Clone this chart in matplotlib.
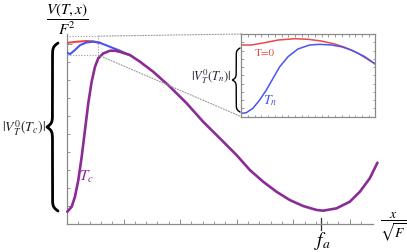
import numpy as np
import matplotlib
matplotlib.use('Agg')
import matplotlib.pyplot as plt
from matplotlib.patches import Rectangle, ConnectionPatch

# main curves (x in units of the bottom ticks, y in units of the left ticks)
purple_x = [0.005, 0.083, 0.141, 0.200, 0.260, 0.318, 0.376, 0.436, 0.495, 0.553,
            0.641, 0.760, 0.848, 0.936, 1.113, 1.290, 1.525, 1.820, 2.115, 2.408,
            2.703, 2.998, 3.233, 3.468, 3.705, 3.940, 4.175, 4.412, 4.528, 4.765,
            5.000, 5.177, 5.353, 5.489]
purple_y = [0.68, 0.96, 1.52, 2.44, 3.74, 5.22, 6.71, 7.91, 8.74, 9.21,
            9.48, 9.63, 9.63, 9.57, 9.39, 9.02, 8.46, 7.63, 6.71, 5.68,
            4.76, 3.83, 3.00, 2.35, 1.79, 1.33, 1.00, 0.78, 0.74, 0.87,
            1.24, 1.79, 2.54, 3.41]
blue_x = [0.005, 0.053, 0.141, 0.230, 0.348, 0.465, 0.583, 0.760, 0.936, 1.054, 1.113]
blue_y = [9.52, 9.44, 9.67, 9.94, 10.09, 10.13, 10.07, 9.85, 9.63, 9.46, 9.39]
red_x = [0.005, 0.171, 0.348, 0.465, 0.583]
red_y = [10.07, 10.13, 10.17, 10.15, 10.07]

# zoomed curves in the inset (normalised 0..1)
in_red_x = [0, 0.075, 0.175, 0.274, 0.399, 0.498, 0.597, 0.697, 0.772, 0.871, 1.0]
in_red_y = [0.867, 0.867, 0.895, 0.927, 0.943, 0.936, 0.915, 0.879, 0.839, 0.767, 0.637]
in_blue_x = [0, 0.037, 0.087, 0.137, 0.187, 0.237, 0.287, 0.349, 0.423, 0.510,
             0.585, 0.672, 0.746, 0.821, 0.921, 1.0]
in_blue_y = [0.041, 0.048, 0.102, 0.202, 0.323, 0.464, 0.605, 0.726, 0.819, 0.867,
             0.875, 0.867, 0.846, 0.807, 0.726, 0.637]

f_a = 4.49
zoom_box = (0.0, 9.39, 0.553, 10.44)  # x0, y0, x1, y1

RED = '#e84848'
BLUE = '#4a55f0'
PURPLE = '#8a2b96'
GRAY = '#8a8a8a'

plt.rcParams['mathtext.fontset'] = 'stix'
plt.rcParams['font.family'] = ['STIXGeneral', 'DejaVu Serif']

fig = plt.figure(figsize=(4.07, 2.52), dpi=100)
W, H = 407, 252

def px_axes(l, t, r, b):
    return [l / W, 1 - b / H, (r - l) / W, (b - t) / H]

ax = fig.add_axes(px_axes(67, 34, 373, 224))
ax.plot(red_x, red_y, color=RED, lw=1.5, zorder=3)
ax.plot(blue_x, blue_y, color=BLUE, lw=1.5, zorder=4)
ax.plot(purple_x, purple_y, color=PURPLE, lw=1.9, zorder=5, clip_on=False,
        solid_capstyle='round', solid_joinstyle='round')
ax.set_xlim(0, 5.41)
ax.set_ylim(0, 10.56)
for s in ['top', 'right']:
    ax.spines[s].set_visible(False)
for s in ['left', 'bottom']:
    ax.spines[s].set_color(GRAY)
    ax.spines[s].set_linewidth(0.9)
ax.set_xticks([1, 2, 3, 4, 5])
ax.set_xticks(np.arange(0.2, 5.4, 0.2), minor=True)
ax.set_yticks([1, 10])
ax.set_yticks(np.arange(1, 11), minor=True)
ax.tick_params(which='major', direction='in', length=3.5, width=0.7, color=GRAY,
               labelbottom=False, labelleft=False)
ax.tick_params(which='minor', direction='in', length=2, width=0.6, color=GRAY)
ax.plot([f_a, f_a], [-0.35, 0.35], color='#333333', lw=0.9, clip_on=False)

x0, y0, x1, y1 = zoom_box
ax.add_patch(Rectangle((x0, y0), x1 - x0, y1 - y0, fill=False, ec='#999999',
                       lw=0.8, ls=(0, (1, 1.5)), zorder=2))

ins = fig.add_axes(px_axes(241.3, 34, 375.3, 116.7))
ins.plot(in_red_x, in_red_y, color=RED, lw=1.1)
ins.plot(in_blue_x, in_blue_y, color=BLUE, lw=1.1)
ins.set_xlim(0, 1)
ins.set_ylim(0, 1)
for s in ins.spines.values():
    s.set_color(GRAY)
    s.set_linewidth(0.9)
ins.set_xticks([])
ins.set_yticks([])
ins.set_xticks(np.arange(0.05, 1, 0.05), minor=True)
ins.set_yticks(np.arange(0.1, 1, 0.1), minor=True)
ins.tick_params(which='minor', direction='in', length=1.8, width=0.6, color=GRAY,
                top=True, right=True)
ins.text(0.175, 0.77, 'T=0', color=RED, fontsize=8, ha='center', va='center')
ins.text(0.215, 0.2, '$T_n$', color=BLUE, fontsize=10, ha='center', va='center')

for xy in [(x1, y1), (x1, y0)]:
    con = ConnectionPatch(xyA=xy, coordsA=ax.transData,
                          xyB=(0, 1 if xy[1] == y1 else 0), coordsB=ins.transAxes,
                          color='#999999', lw=0.8, ls=(0, (1, 1.5)))
    fig.add_artist(con)

# overlay in pixel coordinates for braces and labels
ov = fig.add_axes([0, 0, 1, 1], zorder=10)
ov.set_xlim(0, W)
ov.set_ylim(H, 0)
ov.axis('off')
ov.patch.set_alpha(0)

def brace(xe, ya, yb, w, lw, beta=0.7):
    ym = (ya + yb) / 2
    t = np.linspace(ya, ym, 200)
    f = 1 / (1 + np.exp(-beta * (t - ya))) + 1 / (1 + np.exp(-beta * (t - ym)))
    xs = xe - (f - 0.5) * w
    yy = np.concatenate([t, (2 * ym - t)[::-1]])
    xx = np.concatenate([xs, xs[::-1]])
    ov.plot(xx, yy, color='black', lw=lw, solid_capstyle='round')

brace(58, 43, 211, 11, 2.0, beta=0.5)
brace(240, 48, 112, 7.5, 1.0, beta=0.8)

ov.text(23.5, 128, r'$|V_T^0(T_c)|$', fontsize=10, ha='center', va='center', color='#222222')
ov.text(211.5, 77, r'$|V_T^0(T_n)|$', fontsize=9, ha='center', va='center', color='#222233')
ov.text(86, 177, r'$T_c$', fontsize=11, ha='center', va='center', color=PURPLE)
ov.text(67.5, 19, r'$\dfrac{V(T,x)}{F^2}$', fontsize=11, ha='center', va='center')
ov.text(393, 227, r'$\dfrac{x}{\sqrt{F}}$', fontsize=10, ha='center', va='center')
ov.text(322, 241, r'$f_a$', fontsize=14, ha='center', va='center')

fig.savefig('out.png', dpi=100)
